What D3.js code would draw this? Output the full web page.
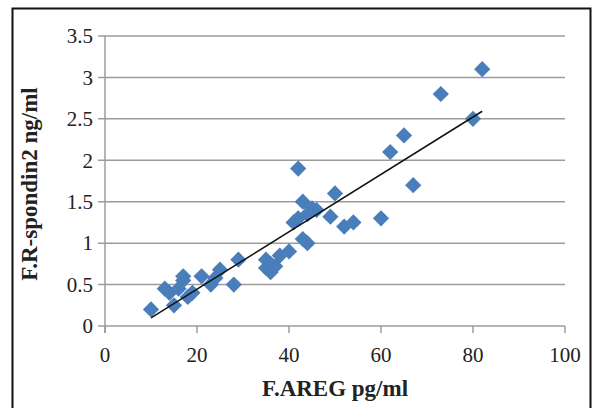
<!DOCTYPE html>
<meta charset="utf-8">
<style>
  body { margin: 0; background: #fff; }
  svg text { font-family: "Liberation Serif", "Times New Roman", serif; fill: #222; }
</style>
<div id="chart"></div>
<script src="https://d3js.org/d3.v7.min.js"></script>
<script>

// F.AREG (pg/ml) vs F.R-spondin2 (ng/ml)
var areg = [10, 13, 14, 15, 16, 17, 17, 18, 19, 21, 23, 24, 25, 28, 29,
            35, 35, 36, 36, 37, 38, 40, 41, 42, 42, 43, 43, 44, 44, 45,
            46, 49, 50, 52, 54, 60, 62, 65, 67, 73, 80, 82];
var rspondin = [0.2, 0.45, 0.4, 0.25, 0.45, 0.6, 0.55, 0.35, 0.4, 0.6, 0.5, 0.58, 0.68, 0.5, 0.8,
                0.8, 0.7, 0.65, 0.75, 0.72, 0.85, 0.9, 1.25, 1.9, 1.3, 1.5, 1.05, 1.0, 1.35, 1.42,
                1.4, 1.32, 1.6, 1.2, 1.25, 1.3, 2.1, 2.3, 1.7, 2.8, 2.5, 3.1];
var xTicks = [0, 20, 40, 60, 80, 100];
var yTicks = [0, 0.5, 1, 1.5, 2, 2.5, 3, 3.5];

var width = 598, height = 408;
var margin = {left: 105, right: 33, top: 36, bottom: 82};

var svg = d3.select("#chart").append("svg")
    .attr("width", width)
    .attr("height", height);

// outer frame
svg.append("rect")
    .attr("x", 12.5).attr("y", 8.5)
    .attr("width", 578).attr("height", 420)
    .attr("fill", "none")
    .attr("stroke", "#111")
    .attr("stroke-width", 2);

var x = d3.scaleLinear().domain([0, 100]).range([margin.left, width - margin.right]);
var y = d3.scaleLinear().domain([0, 3.5]).range([height - margin.bottom, margin.top]);

// gridlines
svg.append("g")
  .selectAll("line")
  .data(yTicks)
  .enter().append("line")
    .attr("x1", x(0) - 7)
    .attr("x2", x(100))
    .attr("y1", function(d) { return y(d); })
    .attr("y2", function(d) { return y(d); })
    .attr("stroke", "#9c9c9c")
    .attr("stroke-width", 1.5);

// y axis line
svg.append("line")
    .attr("x1", x(0)).attr("x2", x(0))
    .attr("y1", y(3.5)).attr("y2", y(0) + 7)
    .attr("stroke", "#9c9c9c")
    .attr("stroke-width", 1.5);

// x tick marks
svg.append("g")
  .selectAll("line")
  .data(xTicks)
  .enter().append("line")
    .attr("x1", function(d) { return x(d); })
    .attr("x2", function(d) { return x(d); })
    .attr("y1", y(0))
    .attr("y2", y(0) + 7)
    .attr("stroke", "#9c9c9c")
    .attr("stroke-width", 1.5);

svg.append("g")
  .selectAll("text")
  .data(yTicks)
  .enter().append("text")
    .attr("x", x(0) - 12)
    .attr("y", function(d) { return y(d); })
    .attr("dy", "0.35em")
    .attr("text-anchor", "end")
    .attr("font-size", 21)
    .text(function(d) { return d; });

svg.append("g")
  .selectAll("text")
  .data(xTicks)
  .enter().append("text")
    .attr("x", function(d) { return x(d); })
    .attr("y", y(0) + 29)
    .attr("dy", "0.35em")
    .attr("text-anchor", "middle")
    .attr("font-size", 21)
    .text(function(d) { return d; });

// axis titles
svg.append("text")
    .attr("x", (x(0) + x(100)) / 2)
    .attr("y", 388)
    .attr("dy", "0.35em")
    .attr("text-anchor", "middle")
    .attr("font-size", 23)
    .attr("font-weight", "bold")
    .text("F.AREG pg/ml");

svg.append("text")
    .attr("transform", "translate(29,184)rotate(-90)")
    .attr("dy", "0.35em")
    .attr("text-anchor", "middle")
    .attr("font-size", 23)
    .attr("font-weight", "bold")
    .text("F.R-spondin2 ng/ml");

// points
var data = areg.map(function(d, i) { return {x: d, y: rspondin[i]}; });

svg.append("g")
  .selectAll("path")
  .data(data)
  .enter().append("path")
    .attr("d", d3.symbol(d3.symbolSquare, 132))
    .attr("transform", function(d) { return "translate(" + x(d.x) + "," + y(d.y) + ")rotate(45)"; })
    .attr("fill", "#4a7ebb");

// linear trend line (least squares)
var mx = d3.mean(areg), my = d3.mean(rspondin);
var sxy = d3.sum(data, function(d) { return (d.x - mx) * (d.y - my); });
var sxx = d3.sum(data, function(d) { return (d.x - mx) * (d.x - mx); });
var slope = sxy / sxx, intercept = my - slope * mx;
var x0 = d3.min(areg), x1 = d3.max(areg);

svg.append("line")
    .attr("x1", x(x0)).attr("y1", y(intercept + slope * x0))
    .attr("x2", x(x1)).attr("y2", y(intercept + slope * x1))
    .attr("stroke", "#111")
    .attr("stroke-width", 1.5);

</script>
